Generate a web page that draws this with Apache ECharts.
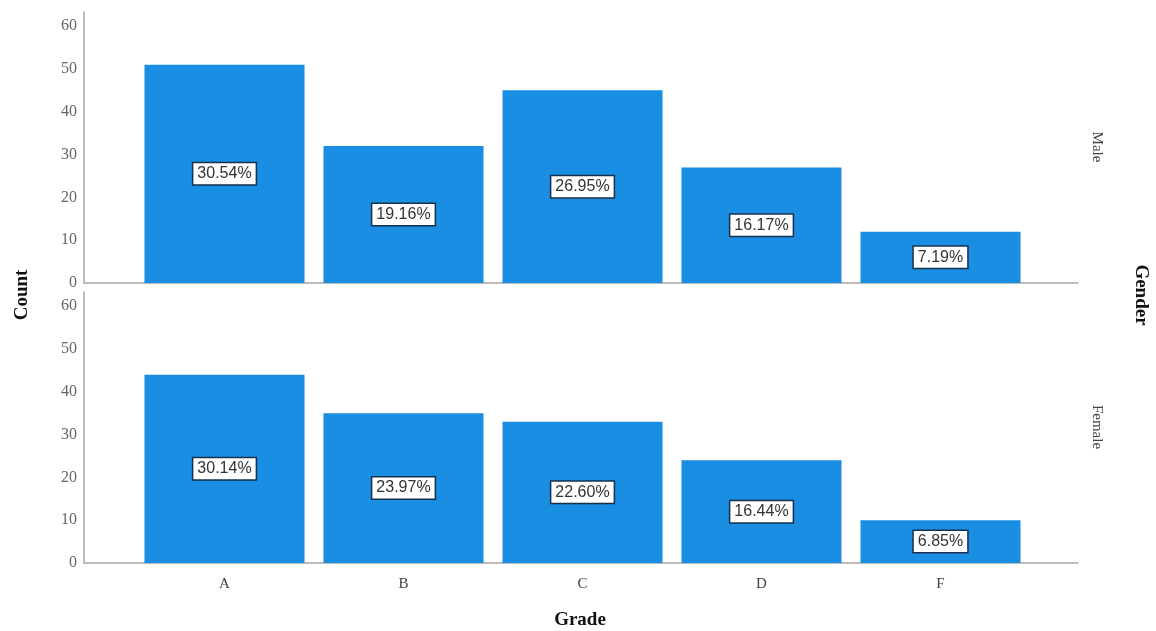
<!DOCTYPE html>
<html>
<head>
<meta charset="utf-8">
<script src="https://cdn.jsdelivr.net/npm/echarts@6/dist/echarts.min.js"></script>
<style>html,body{margin:0;padding:0;background:#fff}#c{width:1156px;height:631px}</style>
</head>
<body>
<div id="c"></div>
<script>
var categories = ['A', 'B', 'C', 'D', 'F'];
var maleCounts = [51, 32, 45, 27, 12];
var femaleCounts = [44, 35, 33, 24, 10];
var panelNames = ['Male', 'Female'];
var yTicks = [0, 10, 20, 30, 40, 50, 60];

function pct(arr) {
  var t = arr.reduce(function (a, b) { return a + b; }, 0);
  return arr.map(function (v) { return (v / t * 100).toFixed(2) + '%'; });
}
var malePct = pct(maleCounts);
var femalePct = pct(femaleCounts);

var chart = echarts.init(document.getElementById('c'));
var YMAX = 63.3;
var serif = '"Liberation Serif", "Times New Roman", serif';
var sans = '"Liberation Sans", Arial, sans-serif';

function outerX(gi) {
  return { gridIndex: gi, type: 'value', min: 0, max: 1, axisLine: { show: true, lineStyle: { color: '#a6a6a6', width: 1.5 } }, axisTick: { show: false }, axisLabel: { show: false }, splitLine: { show: false } };
}
function innerX(gi, showLabels) {
  return { gridIndex: gi, type: 'category', data: categories, axisLine: { show: false }, axisTick: { show: false },
    axisLabel: { show: showLabels, color: '#444', fontFamily: serif, fontSize: 15, margin: 14 }, splitLine: { show: false } };
}
function outerY(gi) {
  return { gridIndex: gi, type: 'value', min: 0, max: YMAX, interval: 10,
    axisLine: { show: true, lineStyle: { color: '#a6a6a6', width: 1.5 } }, axisTick: { show: false },
    axisLabel: { color: '#666', fontFamily: serif, fontSize: 16, margin: 7,
      formatter: function (v) { return yTicks.indexOf(v) >= 0 ? String(v) : ''; } },
    splitLine: { show: false } };
}
function innerY(gi) {
  return { gridIndex: gi, type: 'value', min: 0, max: YMAX, show: false, splitLine: { show: false } };
}
function barSeries(xi, data, labels) {
  return {
    type: 'bar', xAxisIndex: xi, yAxisIndex: xi, data: data, barCategoryGap: '10.6%',
    itemStyle: { color: '#1a8ee3' },
    label: { show: true, position: 'inside', color: '#333', fontFamily: sans, fontSize: 16,
      backgroundColor: '#fff', borderColor: '#15304a', borderWidth: 1.5, padding: [3, 4, 2, 4],
      formatter: function (p) { return labels[p.dataIndex]; } }
  };
}

chart.setOption({
  animation: false,
  grid: [
    { left: 84, right: 78, top: 12, height: 271 },
    { left: 135, right: 126, top: 12, height: 271 },
    { left: 84, right: 78, top: 292, height: 271 },
    { left: 135, right: 126, top: 292, height: 271 }
  ],
  xAxis: [outerX(0), innerX(1, false), outerX(2), innerX(3, true)],
  yAxis: [outerY(0), innerY(1), outerY(2), innerY(3)],
  series: [barSeries(1, maleCounts, malePct), barSeries(3, femaleCounts, femalePct)],
  graphic: [
    { type: 'text', x: 1097, y: 147, rotation: -Math.PI / 2,
      style: { text: panelNames[0], font: '15px ' + serif, fill: '#444', textAlign: 'center', textVerticalAlign: 'middle' } },
    { type: 'text', x: 1097, y: 427, rotation: -Math.PI / 2,
      style: { text: panelNames[1], font: '15px ' + serif, fill: '#444', textAlign: 'center', textVerticalAlign: 'middle' } },
    { type: 'text', x: 1141, y: 295, rotation: -Math.PI / 2,
      style: { text: 'Gender', font: 'bold 19px ' + serif, fill: '#111', textAlign: 'center', textVerticalAlign: 'middle' } },
    { type: 'text', x: 22, y: 295, rotation: Math.PI / 2,
      style: { text: 'Count', font: 'bold 19px ' + serif, fill: '#111', textAlign: 'center', textVerticalAlign: 'middle' } },
    { type: 'text', x: 580, y: 620,
      style: { text: 'Grade', font: 'bold 19px ' + serif, fill: '#111', textAlign: 'center', textVerticalAlign: 'middle' } }
  ]
});
</script>
</body>
</html>
